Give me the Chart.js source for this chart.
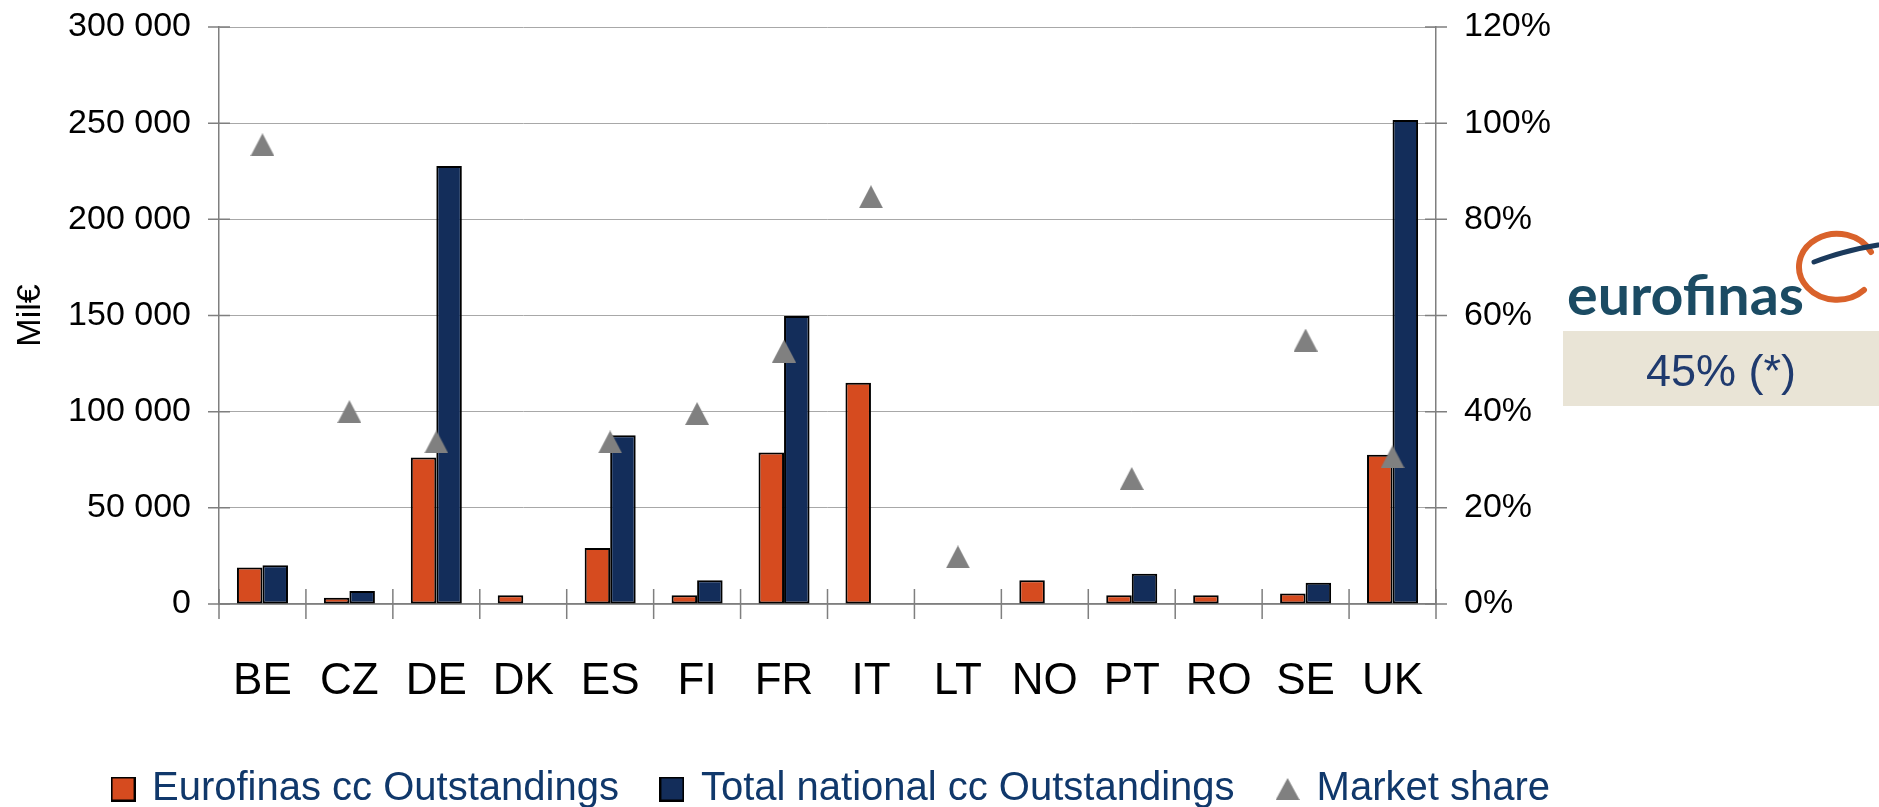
<!DOCTYPE html>
<html>
<head>
<meta charset="utf-8">
<script src="https://cdn.jsdelivr.net/npm/chart.js@4.4.1/dist/chart.umd.min.js"></script>
<style>
  html, body { margin: 0; padding: 0; background: #fff; }
  #page { position: relative; width: 1879px; height: 807px; overflow: hidden; }
  #box { position: absolute; left: 0; top: 0; width: 1879px; height: 819px; }
  #logo { position: absolute; left: 0; top: 0; pointer-events: none; }
</style>
</head>
<body>
<div id="page">
  <div id="box"><canvas id="chart_eurofinasCc"></canvas></div>
  <svg id="logo" width="1879" height="807" viewBox="0 0 1879 807">
    <rect x="1563" y="331" width="316" height="75" fill="#e9e4d6"/>
    <text x="1721" y="386" text-anchor="middle" font-family="Liberation Sans, Arial" font-size="45" fill="#1f3a6e">45% (*)</text>
    <text x="1567" y="315" font-family="Lato" font-weight="700" font-size="55" fill="#1b4b63" textLength="237" lengthAdjust="spacingAndGlyphs">eurofinas</text>
    <path d="M 1871 252 A 38 33 0 1 0 1864 290" fill="none" stroke="#d9622b" stroke-width="6" stroke-linecap="round"/>
    <path d="M 1814 262 Q 1846 250 1878 245" fill="none" stroke="#1b3a5c" stroke-width="5" stroke-linecap="round"/>
  </svg>
</div>
<script>
// categories and values
const countries = ['BE', 'CZ', 'DE', 'DK', 'ES', 'FI', 'FR', 'IT', 'LT', 'NO', 'PT', 'RO', 'SE', 'UK'];
const eurofinasCc = [19000, 3300, 76200, 4500, 29100, 4500, 78800, 115000, null, 12300, 4500, 4500, 5500, 77600];
const nationalCc = [20200, 6700, 227700, null, 87800, 12300, 149800, null, null, null, 15700, null, 11000, 251700];
const marketShare = [95.5, 40.0, 33.7, null, 33.7, 39.6, 52.6, 84.7, 9.8, null, 26.1, null, 54.9, 30.6];
const leftTickLabels = ['0', '50 000', '100 000', '150 000', '200 000', '250 000', '300 000'];
const rightTickLabels = ['0%', '20%', '40%', '60%', '80%', '100%', '120%'];

const ORANGE = '#d64b1f';
const NAVY = '#132d5a';
const GREY = '#808080';
const AXIS = '#7f7f7f';
const FONT = 'Liberation Sans';

function makeTriangle(w, h) {
    const c = document.createElement('canvas');
    c.width = w; c.height = h;
    const g = c.getContext('2d');
    g.fillStyle = GREY;
    g.beginPath();
    g.moveTo(w / 2, 0);
    g.lineTo(w, h);
    g.lineTo(0, h);
    g.closePath();
    g.fill();
    return c;
}

function makeSwatch(color, s) {
    const c = document.createElement('canvas');
    c.width = s; c.height = s;
    const g = c.getContext('2d');
    g.fillStyle = '#000';
    g.fillRect(0, 0, s, s);
    g.fillStyle = color;
    g.fillRect(2, 2, s - 4, s - 4);
    return c;
}

const triMarker = makeTriangle(24, 23);
const legendMarks = [makeSwatch(ORANGE, 25), makeSwatch(NAVY, 25), makeTriangle(24, 22)];

// Excel style tick marks that cross the axis lines
const crossTicks = {
    id: 'crossTicks',
    beforeDatasetsDraw(chart) {
        const ctx = chart.ctx;
        const x = chart.scales.x, y = chart.scales.y, y2 = chart.scales.y2;
        ctx.save();
        ctx.strokeStyle = AXIS;
        ctx.lineWidth = 1.5;
        ctx.beginPath();
        const n = countries.length;
        const step = x.width / n;
        for (let i = 0; i <= n; i++) {
            const px = x.left + i * step;
            ctx.moveTo(px, x.top - 15);
            ctx.lineTo(px, x.top + 15);
        }
        y.ticks.forEach(function(t, i) {
            const py = y.getPixelForTick(i);
            ctx.moveTo(y.right - 11, py);
            ctx.lineTo(y.right + 11, py);
        });
        y2.ticks.forEach(function(t, i) {
            const py = y2.getPixelForTick(i);
            ctx.moveTo(y2.left - 11, py);
            ctx.lineTo(y2.left + 11, py);
        });
        ctx.stroke();
        ctx.restore();
    }
};

function fixSide(width) {
    return function(scale) {
        scale.width = width;
        scale.paddingTop = 0;
        scale.paddingBottom = 0;
    };
}

new Chart(document.getElementById('chart_eurofinasCc'), {
    type: 'bar',
    data: {
        labels: countries,
        datasets: [
            {
                label: 'Eurofinas cc Outstandings',
                data: eurofinasCc,
                backgroundColor: ORANGE,
                borderColor: '#000',
                borderWidth: 2,
                borderSkipped: false,
                yAxisID: 'y',
                order: 2
            },
            {
                label: 'Total national cc Outstandings',
                data: nationalCc,
                backgroundColor: NAVY,
                borderColor: '#000',
                borderWidth: 2,
                borderSkipped: false,
                yAxisID: 'y',
                order: 2
            },
            {
                type: 'line',
                label: 'Market share',
                data: marketShare,
                showLine: false,
                pointStyle: triMarker,
                pointRadius: 12,
                backgroundColor: GREY,
                borderColor: GREY,
                yAxisID: 'y2',
                order: 1
            }
        ]
    },
    options: {
        animation: false,
        responsive: true,
        maintainAspectRatio: false,
        categoryPercentage: 0.587,
        barPercentage: 1.0,
        layout: { padding: { top: 27, right: 215, left: 0, bottom: 0 } },
        plugins: {
            tooltip: { enabled: false },
            legend: {
                position: 'bottom',
                labels: {
                    usePointStyle: true,
                    pointStyleWidth: 18,
                    boxHeight: 25,
                    padding: 44,
                    color: '#10386b',
                    font: { family: FONT, size: 40 },
                    sort: function(a, b) { return a.datasetIndex - b.datasetIndex; },
                    generateLabels: function(chart) {
                        const items = Chart.defaults.plugins.legend.labels.generateLabels(chart);
                        items.forEach(function(it) { it.pointStyle = legendMarks[it.datasetIndex]; });
                        return items;
                    }
                }
            }
        },
        scales: {
            x: {
                grid: { display: false, drawTicks: false },
                border: { display: true, color: AXIS, width: 1.5 },
                ticks: {
                    color: '#000',
                    font: { family: FONT, size: 44 },
                    padding: 51,
                    maxRotation: 0,
                    autoSkip: false
                },
                afterFit: function(scale) { scale.height = 121; }
            },
            y: {
                position: 'left',
                min: 0,
                max: 300000,
                ticks: {
                    stepSize: 50000,
                    color: '#000',
                    font: { family: FONT, size: 34 },
                    padding: 28,
                    callback: function(value, index) { return leftTickLabels[index]; }
                },
                grid: { color: '#a8a8a8', lineWidth: 1, drawTicks: false },
                border: { color: AXIS, width: 1.5 },
                title: {
                    display: true,
                    text: 'Mil€',
                    color: '#000',
                    font: { family: FONT, size: 34 },
                    padding: { top: 10, bottom: 0 }
                },
                afterFit: fixSide(219)
            },
            y2: {
                position: 'right',
                min: 0,
                max: 120,
                ticks: {
                    stepSize: 20,
                    color: '#000',
                    font: { family: FONT, size: 34 },
                    padding: 28,
                    callback: function(value, index) { return rightTickLabels[index]; }
                },
                grid: { display: false, drawTicks: false },
                border: { color: AXIS, width: 1.5 },
                afterFit: fixSide(228)
            }
        }
    },
    plugins: [crossTicks]
});
</script>
</body>
</html>
